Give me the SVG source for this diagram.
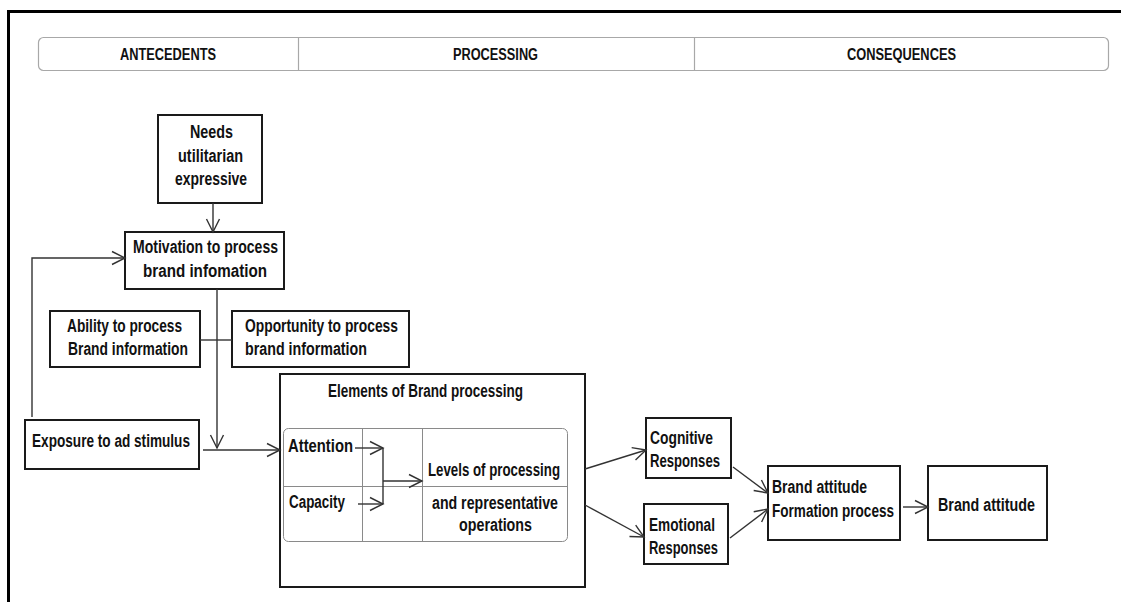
<svg xmlns="http://www.w3.org/2000/svg" width="1121" height="602" viewBox="0 0 1121 602">
  <style>
    .t { font-family: "Liberation Sans", Arial, sans-serif; font-weight: bold; font-size: 18px; fill: #111; }
    .h { font-size: 16px; }
    .box { fill: #fff; stroke: #1a1a1a; stroke-width: 2; }
    .frame { fill: none; stroke: #000; stroke-width: 3; }
    .hdr { fill: #fff; stroke: #a8a8a8; stroke-width: 1.2; }
    .grid { fill: none; stroke: #8a8a8a; stroke-width: 1; }
    .cn { fill: none; stroke: #333; stroke-width: 1.4; }
    .arr { marker-end: url(#v); }
  </style>
  <defs>
    <marker id="v" markerUnits="userSpaceOnUse" markerWidth="16" markerHeight="16" refX="13" refY="6.5" orient="auto" overflow="visible">
      <path d="M0,0 L13,6.5 L0,13" fill="none" stroke="#333" stroke-width="1.4"/>
    </marker>
  </defs>

  <rect width="1121" height="602" fill="#fff"/>

  <!-- outer frame: top and left rules only -->
  <path class="frame" d="M8.5,602 V11.5 H1121"/>

  <!-- stage header -->
  <g id="header">
    <rect class="hdr" x="38.5" y="37.5" width="1070" height="33" rx="5"/>
    <line class="hdr" x1="298.5" y1="37.5" x2="298.5" y2="70.5"/>
    <line class="hdr" x1="694.5" y1="37.5" x2="694.5" y2="70.5"/>
    <text class="t h" x="120" y="60" textLength="96" lengthAdjust="spacingAndGlyphs">ANTECEDENTS</text>
    <text class="t h" x="453" y="60" textLength="85" lengthAdjust="spacingAndGlyphs">PROCESSING</text>
    <text class="t h" x="847" y="60" textLength="109" lengthAdjust="spacingAndGlyphs">CONSEQUENCES</text>
  </g>

  <g id="needs">
    <rect class="box" x="158" y="115" width="104" height="88"/>
    <text class="t" x="190" y="138" textLength="43" lengthAdjust="spacingAndGlyphs">Needs</text>
    <text class="t" x="178" y="162" textLength="65" lengthAdjust="spacingAndGlyphs">utilitarian</text>
    <text class="t" x="175" y="185" textLength="72" lengthAdjust="spacingAndGlyphs">expressive</text>
  </g>

  <g id="motivation">
    <rect class="box" x="125" y="232" width="159" height="57"/>
    <text class="t" x="133" y="253" textLength="145" lengthAdjust="spacingAndGlyphs">Motivation to process</text>
    <text class="t" x="143" y="277" textLength="124" lengthAdjust="spacingAndGlyphs">brand infomation</text>
  </g>

  <g id="ability">
    <rect class="box" x="50" y="311" width="150" height="56"/>
    <text class="t" x="67" y="332" textLength="115" lengthAdjust="spacingAndGlyphs">Ability to process</text>
    <text class="t" x="68" y="355" textLength="120" lengthAdjust="spacingAndGlyphs">Brand information</text>
  </g>

  <g id="opportunity">
    <rect class="box" x="232" y="311" width="177" height="56"/>
    <text class="t" x="245" y="332" textLength="153" lengthAdjust="spacingAndGlyphs">Opportunity to process</text>
    <text class="t" x="245" y="355" textLength="122" lengthAdjust="spacingAndGlyphs">brand information</text>
  </g>

  <g id="exposure">
    <rect class="box" x="25" y="420" width="174" height="49"/>
    <text class="t" x="32" y="447" textLength="158" lengthAdjust="spacingAndGlyphs">Exposure to ad stimulus</text>
  </g>

  <g id="elements">
    <rect class="box" x="280" y="374" width="305" height="213"/>
    <text class="t" x="328" y="397" textLength="195" lengthAdjust="spacingAndGlyphs">Elements of Brand processing</text>
    <rect class="grid" x="283.5" y="428.5" width="284" height="113" rx="5"/>
    <line class="grid" x1="283.5" y1="486.5" x2="567.5" y2="486.5"/>
    <line class="grid" x1="362.5" y1="428.5" x2="362.5" y2="541.5"/>
    <line class="grid" x1="422.5" y1="428.5" x2="422.5" y2="541.5"/>
    <text class="t" x="288" y="452" textLength="65" lengthAdjust="spacingAndGlyphs">Attention</text>
    <text class="t" x="289" y="508" textLength="56" lengthAdjust="spacingAndGlyphs">Capacity</text>
    <text class="t" x="428" y="476" textLength="132" lengthAdjust="spacingAndGlyphs">Levels of processing</text>
    <text class="t" x="432" y="509" textLength="126" lengthAdjust="spacingAndGlyphs">and representative</text>
    <text class="t" x="459" y="531" textLength="73" lengthAdjust="spacingAndGlyphs">operations</text>
  </g>

  <g id="cognitive">
    <rect class="box" x="646" y="418" width="85" height="60"/>
    <text class="t" x="650" y="444" textLength="63" lengthAdjust="spacingAndGlyphs">Cognitive</text>
    <text class="t" x="650" y="467" textLength="70" lengthAdjust="spacingAndGlyphs">Responses</text>
  </g>

  <g id="emotional">
    <rect class="box" x="644" y="504" width="84" height="60"/>
    <text class="t" x="649" y="531" textLength="66" lengthAdjust="spacingAndGlyphs">Emotional</text>
    <text class="t" x="649" y="554" textLength="69" lengthAdjust="spacingAndGlyphs">Responses</text>
  </g>

  <g id="formation">
    <rect class="box" x="768" y="466" width="132" height="74"/>
    <text class="t" x="772" y="493" textLength="95" lengthAdjust="spacingAndGlyphs">Brand attitude</text>
    <text class="t" x="772" y="517" textLength="122" lengthAdjust="spacingAndGlyphs">Formation process</text>
  </g>

  <g id="attitude">
    <rect class="box" x="928" y="466" width="119" height="74"/>
    <text class="t" x="938" y="511" textLength="97" lengthAdjust="spacingAndGlyphs">Brand attitude</text>
  </g>

  <g id="connectors">
    <line class="cn arr" x1="213" y1="203" x2="213" y2="232"/>
    <polyline class="cn arr" points="32,417 32,258 125,258"/>
    <line class="cn arr" x1="217" y1="289" x2="217" y2="448"/>
    <line class="cn" x1="200" y1="340" x2="232" y2="340"/>
    <line class="cn arr" x1="203" y1="450" x2="280" y2="450"/>
    <line class="cn arr" x1="355" y1="448" x2="383" y2="448"/>
    <line class="cn arr" x1="358" y1="504" x2="383" y2="504"/>
    <line class="cn" x1="383" y1="448" x2="383" y2="504"/>
    <line class="cn arr" x1="383" y1="481" x2="422" y2="481"/>
    <line class="cn arr" x1="585" y1="469" x2="646" y2="450"/>
    <line class="cn arr" x1="585" y1="505" x2="644" y2="537"/>
    <line class="cn arr" x1="733" y1="467" x2="768" y2="493"/>
    <line class="cn arr" x1="730" y1="538" x2="768" y2="509"/>
    <line class="cn arr" x1="903" y1="507" x2="928" y2="507"/>
  </g>
</svg>
